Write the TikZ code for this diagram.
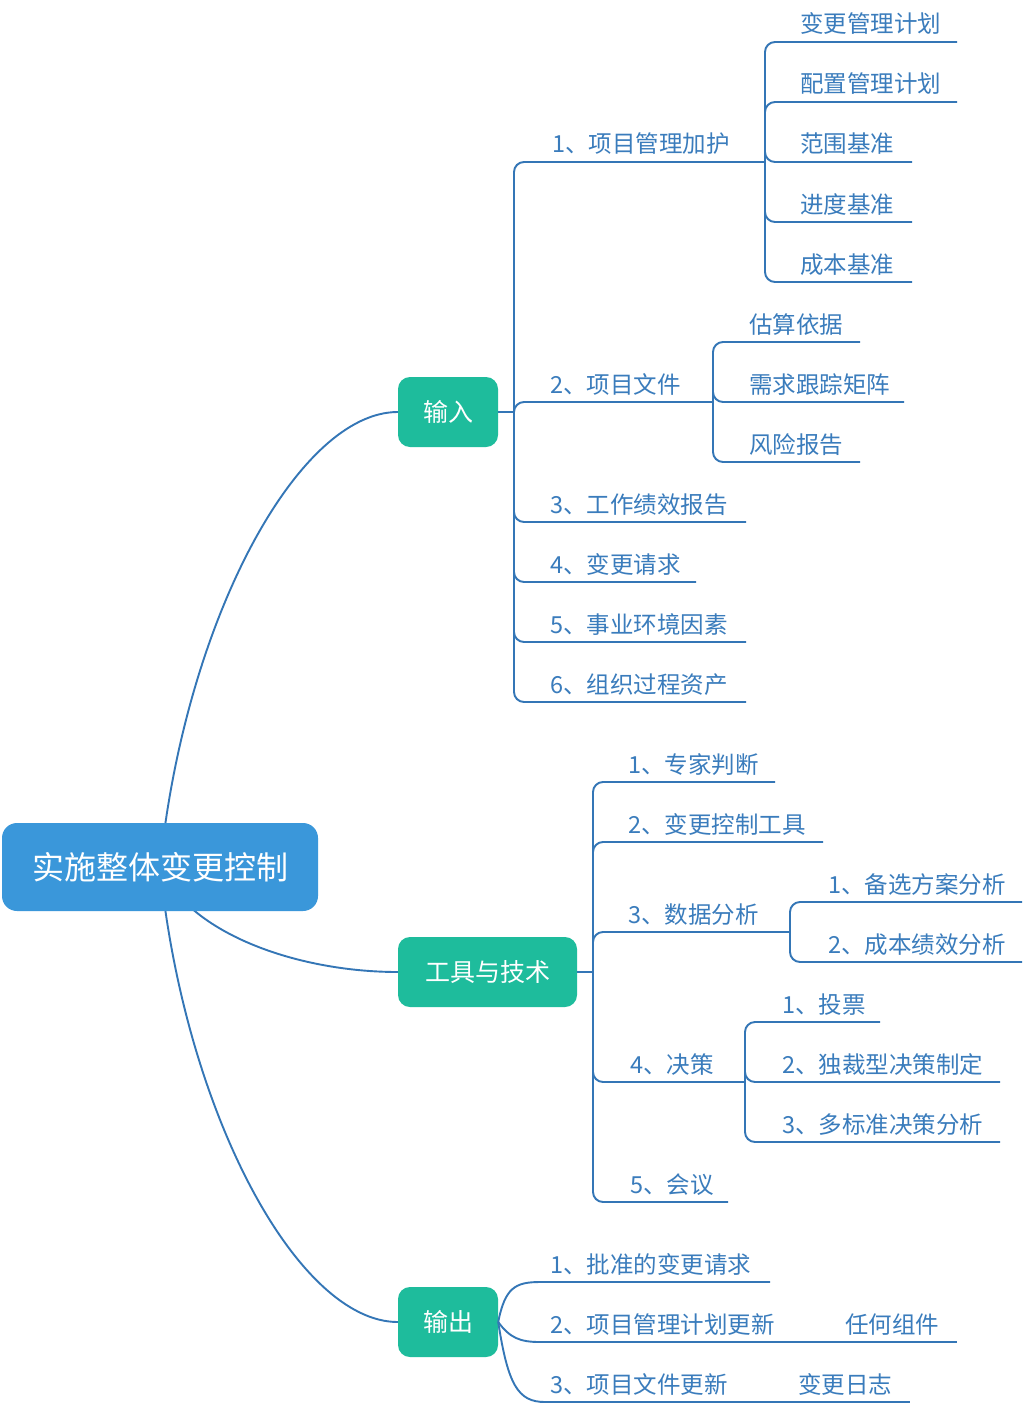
\documentclass[tikz,border=0pt]{standalone}
\usepackage{fontspec}
\newfontfamily\cjk{Noto Sans CJK SC}
\usetikzlibrary{backgrounds}
\definecolor{linec}{RGB}{52,118,182}
\definecolor{txtc}{RGB}{58,124,188}
\definecolor{rootc}{RGB}{58,151,218}
\definecolor{topicc}{RGB}{30,188,156}
\tikzset{
  conn/.style={draw=linec, line width=1.9pt},
  leaf/.style={text=txtc, font=\cjk\fontsize{23.5}{28}\selectfont, inner sep=0pt},
  rootbox/.style={fill=rootc, rounded corners=15pt, minimum width=316pt, minimum height=88pt, text=white, font=\cjk\fontsize{32}{38}\selectfont, inner sep=0pt},
  topicbox/.style={fill=topicc, rounded corners=12pt, minimum height=70pt, text=white, font=\cjk\fontsize{25}{30}\selectfont, inner sep=0pt}
}
\newcommand\leafitem[6]{%
  \node[leaf, anchor=base west] (#2) at (#3,#4-9) {#6};
  \coordinate (#2-e) at (#5,#4);
  \draw[conn, rounded corners=10pt] (#1) |- (#2-e);
}
\begin{document}
\begin{tikzpicture}[x=1pt,y=-1pt]
\useasboundingbox (0,0) rectangle (1025,1407);

% main nodes
\node[rootbox] (root) at (160,867) {实施整体变更控制};
\node[topicbox, minimum width=100pt] (in) at (448,412) {输入};
\node[topicbox, minimum width=179pt] (tool) at (487.5,972) {工具与技术};
\node[topicbox, minimum width=100pt] (out) at (448,1322) {输出};

\begin{scope}[on background layer]
\fill[white] (0,0) rectangle (1025,1407);
\draw[conn] (root.center) .. controls (185,620) and (298,412) .. (in.west);
\draw[conn] (root.center) .. controls (190,935) and (300,972) .. (tool.west);
\draw[conn] (root.center) .. controls (185,1114) and (298,1322) .. (out.west);
\end{scope}

% ---------- input ----------
\coordinate (inj) at (514,412);
\draw[conn] (in.east) -- (inj);
\leafitem{inj}{i1}{552}{162}{765}{1、项目管理加护}
\leafitem{i1-e}{i1a}{800}{42}{957}{变更管理计划}
\leafitem{i1-e}{i1b}{800}{102}{957}{配置管理计划}
\leafitem{i1-e}{i1c}{800}{162}{912}{范围基准}
\leafitem{i1-e}{i1d}{800}{222}{912}{进度基准}
\leafitem{i1-e}{i1e}{800}{282}{912}{成本基准}
\leafitem{inj}{i2}{550}{402}{713}{2、项目文件}
\leafitem{i2-e}{i2a}{749}{342}{860}{估算依据}
\leafitem{i2-e}{i2b}{749}{402}{904}{需求跟踪矩阵}
\leafitem{i2-e}{i2c}{749}{462}{860}{风险报告}
\leafitem{inj}{i3}{550}{522}{746}{3、工作绩效报告}
\leafitem{inj}{i4}{550}{582}{696}{4、变更请求}
\leafitem{inj}{i5}{550}{642}{746}{5、事业环境因素}
\leafitem{inj}{i6}{550}{702}{746}{6、组织过程资产}

% ---------- tools ----------
\coordinate (tj) at (593,972);
\draw[conn] (tool.east) -- (tj);
\leafitem{tj}{t1}{628}{782}{775}{1、专家判断}
\leafitem{tj}{t2}{628}{842}{823}{2、变更控制工具}
\leafitem{tj}{t3}{628}{932}{790}{3、数据分析}
\leafitem{t3-e}{t3a}{828}{902}{1022}{1、备选方案分析}
\leafitem{t3-e}{t3b}{828}{962}{1022}{2、成本绩效分析}
\leafitem{tj}{t4}{630}{1082}{745}{4、决策}
\leafitem{t4-e}{t4a}{782}{1022}{880}{1、投票}
\leafitem{t4-e}{t4b}{782}{1082}{1000}{2、独裁型决策制定}
\leafitem{t4-e}{t4c}{782}{1142}{1000}{3、多标准决策分析}
\leafitem{tj}{t5}{630}{1202}{728}{5、会议}

% ---------- output ----------
\node[leaf, anchor=base west] (o1) at (550,1273) {1、批准的变更请求};
\coordinate (o1-s) at (540,1282);
\coordinate (o1-e) at (770,1282);
\draw[conn] (out.east) .. controls (505,1288) and (515,1282) .. (o1-s) -- (o1-e);

\node[leaf, anchor=base west] (o2) at (550,1333) {2、项目管理计划更新};
\coordinate (o2-s) at (540,1342);
\coordinate (o2-e) at (780,1342);
\draw[conn] (out.east) .. controls (510,1338) and (520,1342) .. (o2-s) -- (o2-e);
\node[leaf, anchor=base west] (o2a) at (845,1333) {任何组件};
\coordinate (o2a-e) at (957,1342);
\draw[conn] (o2-e) -- (o2a-e);

\node[leaf, anchor=base west] (o3) at (550,1393) {3、项目文件更新};
\coordinate (o3-s) at (545,1402);
\coordinate (o3-e) at (770,1402);
\draw[conn] (out.east) .. controls (508,1385) and (518,1402) .. (o3-s) -- (o3-e);
\node[leaf, anchor=base west] (o3a) at (798,1393) {变更日志};
\coordinate (o3a-e) at (910,1402);
\draw[conn] (o3-e) -- (o3a-e);
\end{tikzpicture}
\end{document}
